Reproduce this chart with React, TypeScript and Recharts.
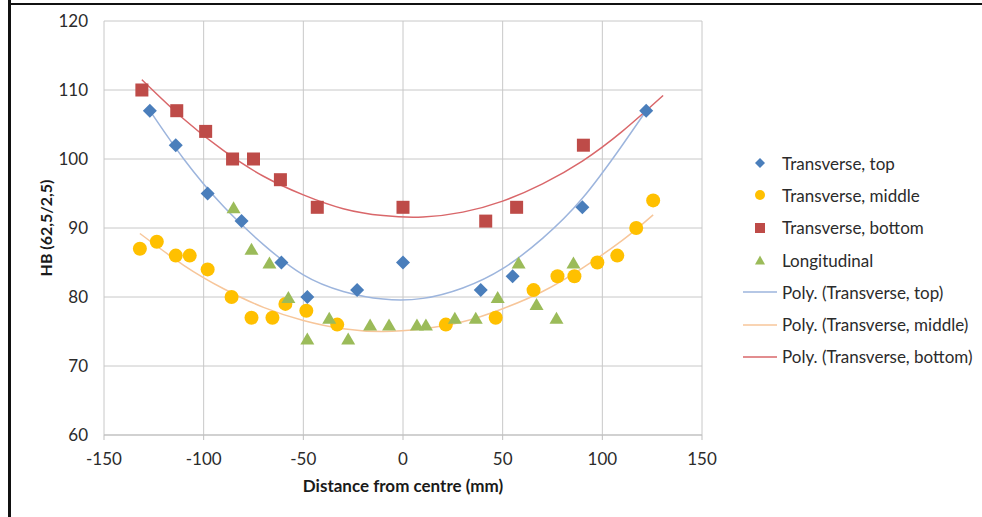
import React from 'react';
import { ComposedChart, Scatter, Line, XAxis, YAxis, CartesianGrid } from 'recharts';

// hardness readings
const topX = [-127, -114, -98, -81, -61, -48, -23, 0, 39, 55, 90, 122];
const topY = [107, 102, 95, 91, 85, 80, 81, 85, 81, 83, 93, 107];
const middleX = [-132, -123.5, -114, -107, -98, -86, -76, -65.5, -59, -48.5, -33, 21.5, 46.5, 65.5, 77.5, 86, 97.5, 107.5, 117, 125.5];
const middleY = [87, 88, 86, 86, 84, 80, 77, 77, 79, 78, 76, 76, 77, 81, 83, 83, 85, 86, 90, 94];
const bottomX = [-131, -113.5, -99, -85.5, -75, -61.5, -43, 0, 41.5, 57, 90.5];
const bottomY = [110, 107, 104, 100, 100, 97, 93, 93, 91, 93, 102];
const longX = [-85, -76, -67, -57.5, -48, -37, -27.5, -16.5, -7, 7, 11.5, 26, 36.5, 47.5, 58, 67, 77, 85.5];
const longY = [93, 87, 85, 80, 74, 77, 74, 76, 76, 76, 76, 77, 77, 80, 85, 79, 77, 85];

// trendline curves (poly)
const topFitX = [-127, -110, -90, -70, -50, -30, -10, 10, 30, 50, 70, 90, 110, 122];
const topFitY = [107, 100, 93.1, 87.6, 83.2, 80.8, 79.7, 79.8, 81.3, 84.1, 88.5, 94.3, 102, 107];
const middleFitX = [-132, -110, -90, -70, -50, -30, -10, 10, 30, 50, 70, 90, 110, 125.5];
const middleFitY = [89.2, 84.6, 81.2, 78.5, 76.6, 75.4, 75.0, 75.4, 76.4, 78.3, 80.8, 84.2, 88.2, 91.9];
const bottomFitX = [-131, -110, -90, -70, -50, -30, -10, 10, 30, 50, 70, 90, 110, 130.5];
const bottomFitY = [111.5, 105.8, 101.2, 97.5, 94.8, 92.8, 91.8, 91.6, 92.3, 93.9, 96.4, 99.7, 104.0, 109.2];

const xTicks = [-150, -100, -50, 0, 50, 100, 150];
const yTicks = [60, 70, 80, 90, 100, 110, 120];

const legendLabels = [
  'Transverse, top',
  'Transverse, middle',
  'Transverse, bottom',
  'Longitudinal',
  'Poly. (Transverse, top)',
  'Poly. (Transverse, middle)',
  'Poly. (Transverse, bottom)',
];

const BLUE = '#4A7EBB';
const YELLOW = '#FFC000';
const RED = '#BE4B48';
const GREEN = '#9BBB59';
const BLUE_LINE = '#9DB5DD';
const ORANGE_LINE = '#F7C69A';
const RED_LINE = '#D9676A';

const pts = (xs: number[], ys: number[]) => xs.map((x, i) => ({ x, y: ys[i] }));

const diamond = (color: string, r: number) => (p: any) => (
  <polygon
    points={`${p.cx},${p.cy - r} ${p.cx + r},${p.cy} ${p.cx},${p.cy + r} ${p.cx - r},${p.cy}`}
    fill={color}
  />
);
const square = (color: string, s: number) => (p: any) => (
  <rect x={p.cx - s / 2} y={p.cy - s / 2} width={s} height={s} fill={color} />
);
const circle = (color: string, r: number) => (p: any) => <circle cx={p.cx} cy={p.cy} r={r} fill={color} />;
const triangle = (color: string, w: number, h: number) => (p: any) => (
  <polygon
    points={`${p.cx},${p.cy - h / 2} ${p.cx + w / 2},${p.cy + h / 2} ${p.cx - w / 2},${p.cy + h / 2}`}
    fill={color}
  />
);

const legendIcons = [
  diamond(BLUE, 5),
  circle(YELLOW, 5),
  square(RED, 10),
  triangle(GREEN, 10, 9),
  () => <line x1={3} x2={37} y1={16} y2={16} stroke={BLUE_LINE} strokeWidth={1.5} />,
  () => <line x1={3} x2={37} y1={16} y2={16} stroke={ORANGE_LINE} strokeWidth={1.5} />,
  () => <line x1={3} x2={37} y1={16} y2={16} stroke={RED_LINE} strokeWidth={1.5} />,
];

function ChartLegend() {
  return (
    <div style={{ position: 'absolute', left: 740, top: 147 }}>
      {legendLabels.map((label, i) => (
        <div key={label} style={{ display: 'flex', alignItems: 'center', height: 32.3 }}>
          <svg width={40} height={32}>{legendIcons[i]({ cx: 20, cy: 16 })}</svg>
          <span style={{ marginLeft: 2, fontSize: 17, color: '#2b2b2b', whiteSpace: 'nowrap' }}>{label}</span>
        </div>
      ))}
    </div>
  );
}

export default function App() {
  const tick = { fill: '#2b2b2b', fontSize: 17 };
  return (
    <div style={{ position: 'relative', width: 982, height: 517, background: '#fff', fontFamily: 'Lato, sans-serif' }}>
      <style>{'body{margin:0}'}</style>
      <div style={{ position: 'absolute', left: 8, top: 0, width: 3, height: 517, background: '#111' }} />
      <div style={{ position: 'absolute', left: 8, top: 3, width: 974, height: 2, background: '#111' }} />
      <ComposedChart width={982} height={517} margin={{ top: 21, right: 280, bottom: 22, left: 20 }}>
        <CartesianGrid stroke="#C8C8C8" />
        <XAxis
          type="number"
          dataKey="x"
          domain={[-150, 150]}
          ticks={xTicks}
          allowDataOverflow
          stroke="#BFBFBF"
          tickSize={5}
          tickMargin={13}
          height={60}
          tick={tick}
          label={{ value: 'Distance from centre (mm)', position: 'insideBottom', offset: 3, fill: '#1a1a1a', fontSize: 17, fontWeight: 700 }}
        />
        <YAxis
          type="number"
          dataKey="y"
          domain={[60, 120]}
          ticks={yTicks}
          allowDataOverflow
          width={84}
          axisLine={false}
          tickLine={false}
          tickSize={0}
          tickMargin={16}
          tick={tick}
          label={{ value: 'HB (62,5/2,5)', angle: -90, position: 'insideLeft', offset: 26, fill: '#1a1a1a', fontSize: 16, fontWeight: 700, style: { textAnchor: 'middle' } }}
        />
        <Line data={pts(topFitX, topFitY)} dataKey="y" type="natural" stroke={BLUE_LINE} strokeWidth={1.5} dot={false} isAnimationActive={false} />
        <Line data={pts(middleFitX, middleFitY)} dataKey="y" type="natural" stroke={ORANGE_LINE} strokeWidth={1.5} dot={false} isAnimationActive={false} />
        <Line data={pts(bottomFitX, bottomFitY)} dataKey="y" type="natural" stroke={RED_LINE} strokeWidth={1.5} dot={false} isAnimationActive={false} />
        <Scatter data={pts(topX, topY)} shape={diamond(BLUE, 7)} isAnimationActive={false} />
        <Scatter data={pts(middleX, middleY)} shape={circle(YELLOW, 7)} isAnimationActive={false} />
        <Scatter data={pts(bottomX, bottomY)} shape={square(RED, 13)} isAnimationActive={false} />
        <Scatter data={pts(longX, longY)} shape={triangle(GREEN, 14, 12)} isAnimationActive={false} />
      </ComposedChart>
      <ChartLegend />
    </div>
  );
}
